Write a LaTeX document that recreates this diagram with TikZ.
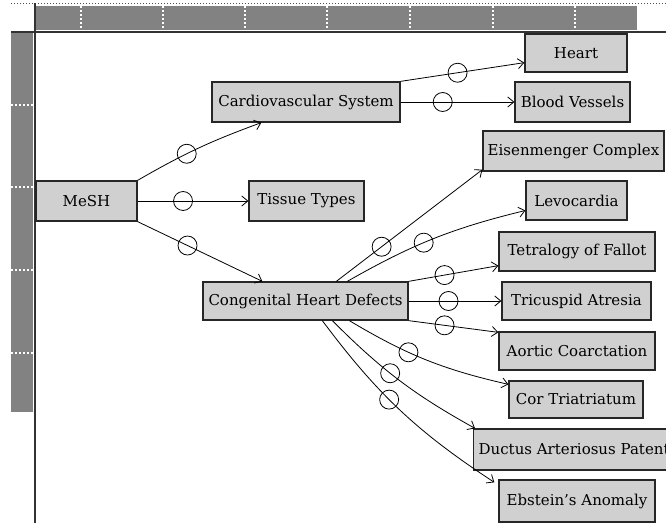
\documentclass[tikz,border=0pt]{standalone}
\usepackage{fontspec}
\setmainfont{DejaVu Serif}
\usetikzlibrary{arrows.meta}
\definecolor{boxfill}{RGB}{208,208,208}
\definecolor{rulergray}{RGB}{130,130,130}
\tikzset{
  termbox/.style={draw=black!85, line width=1.3pt, fill=boxfill, rectangle, inner sep=0pt, font=\fontsize{15}{17}\selectfont},
  link/.style={line width=0.8pt, -{Straight Barb[length=6pt,width=10pt,line width=0.8pt]}},
  ring/.style={draw, circle, line width=0.8pt, minimum size=19pt, inner sep=0pt},
  tick/.style={white, line width=1.2pt, dash pattern=on 2pt off 2pt},
}
\begin{document}
\begin{tikzpicture}[x=1pt,y=-1pt]
\useasboundingbox (0,0) rectangle (666,529);
\clip (0,0) rectangle (666,529);
% ruler frame
\fill[rulergray] (36,6) rectangle (637,30);
\fill[rulergray] (11,33) rectangle (33,412);
\foreach \tx in {81,163,245,327,410,493,575} \draw[tick] (\tx,6) -- (\tx,30);
\foreach \ty in {105,187,270,353} \draw[tick] (11,\ty) -- (33,\ty);
\draw[black!70, line width=1pt, dotted] (11,4) -- (666,4);
\draw[black!80, line width=1.6pt] (11,32) -- (666,32);
\draw[black!80, line width=1.6pt] (35,3) -- (35,523);
% nodes
\node[termbox, minimum width=101pt, minimum height=40pt] (mesh) at (86.5,201) {MeSH};
\node[termbox, minimum width=115pt, minimum height=40pt] (tissue) at (306.5,201) {Tissue Types};
\node[termbox, minimum width=188pt, minimum height=40pt] (cardio) at (306,102) {Cardiovascular System};
\node[termbox, minimum width=102pt, minimum height=38pt] (heart) at (576,53) {Heart};
\node[termbox, minimum width=115pt, minimum height=40pt] (blood) at (572.5,102) {Blood Vessels};
\node[termbox, minimum width=205pt, minimum height=38pt] (congen) at (305.5,301) {Congenital Heart Defects};
\node[termbox, minimum width=181pt, minimum height=40pt] (eisen) at (573.5,151) {Eisenmenger Complex};
\node[termbox, minimum width=101pt, minimum height=39pt] (levo) at (576.5,200.5) {Levocardia};
\node[termbox, minimum width=156pt, minimum height=39pt] (tetra) at (577,251.5) {Tetralogy of Fallot};
\node[termbox, minimum width=149pt, minimum height=38pt] (tricus) at (576.5,301) {Tricuspid Atresia};
\node[termbox, minimum width=156pt, minimum height=38pt] (aortic) at (577,351) {Aortic Coarctation};
\node[termbox, minimum width=134pt, minimum height=37pt] (cor) at (576,399.5) {Cor Triatriatum};
\node[termbox, minimum height=41pt, anchor=west, inner xsep=5pt] (ductus) at (473,449.5) {Ductus Arteriosus Patent};
\node[termbox, minimum width=156pt, minimum height=42pt] (ebstein) at (577,501) {Ebstein's Anomaly};
% connectors
\draw[link] (mesh.north east) to[bend left=5] node[ring, pos=0.4] (r1) {} ([xshift=50pt]cardio.south west);
\draw[link] (mesh.east) -- node[ring, pos=0.41] (r2) {} (tissue.west);
\draw[link] (mesh.south east) -- node[ring, pos=0.4] (r3) {} ([xshift=60pt]congen.north west);
\draw[link] (cardio.north east) -- node[ring, pos=0.46] (r4) {} ([yshift=10pt]heart.south west);
\draw[link] (cardio.east) -- node[ring, pos=0.37] (r5) {} (blood.west);
\draw[link] ([xshift=134pt]congen.north west) -- node[ring, pos=0.31] (r6) {} ([yshift=2pt]eisen.south west);
\draw[link] ([xshift=145pt]congen.north west) to[bend left=8] node[ring, pos=0.44] (r7) {} ([yshift=-10pt]levo.west);
\draw[link] (congen.north east) -- node[ring, pos=0.4] (r8) {} ([yshift=6pt]tetra.south west);
\draw[link] (congen.east) -- node[ring, pos=0.43] (r9) {} (tricus.west);
\draw[link] (congen.south east) -- node[ring, pos=0.4] (r10) {} ([yshift=-1pt]aortic.north west);
\draw[link] ([xshift=147pt]congen.south west) to[bend right=9] node[ring, pos=0.38] (r11) {} ([yshift=-4pt]cor.north west);
\draw[link] ([xshift=130pt]congen.south west) to[bend right=8] node[ring, pos=0.43] (r12) {} ([xshift=2pt]ductus.north west);
\draw[link] ([xshift=120pt]congen.south west) to[bend right=10] node[ring, pos=0.43] (r13) {} ([xshift=-4pt,yshift=-3pt]ebstein.north west);
\end{tikzpicture}
\end{document}
